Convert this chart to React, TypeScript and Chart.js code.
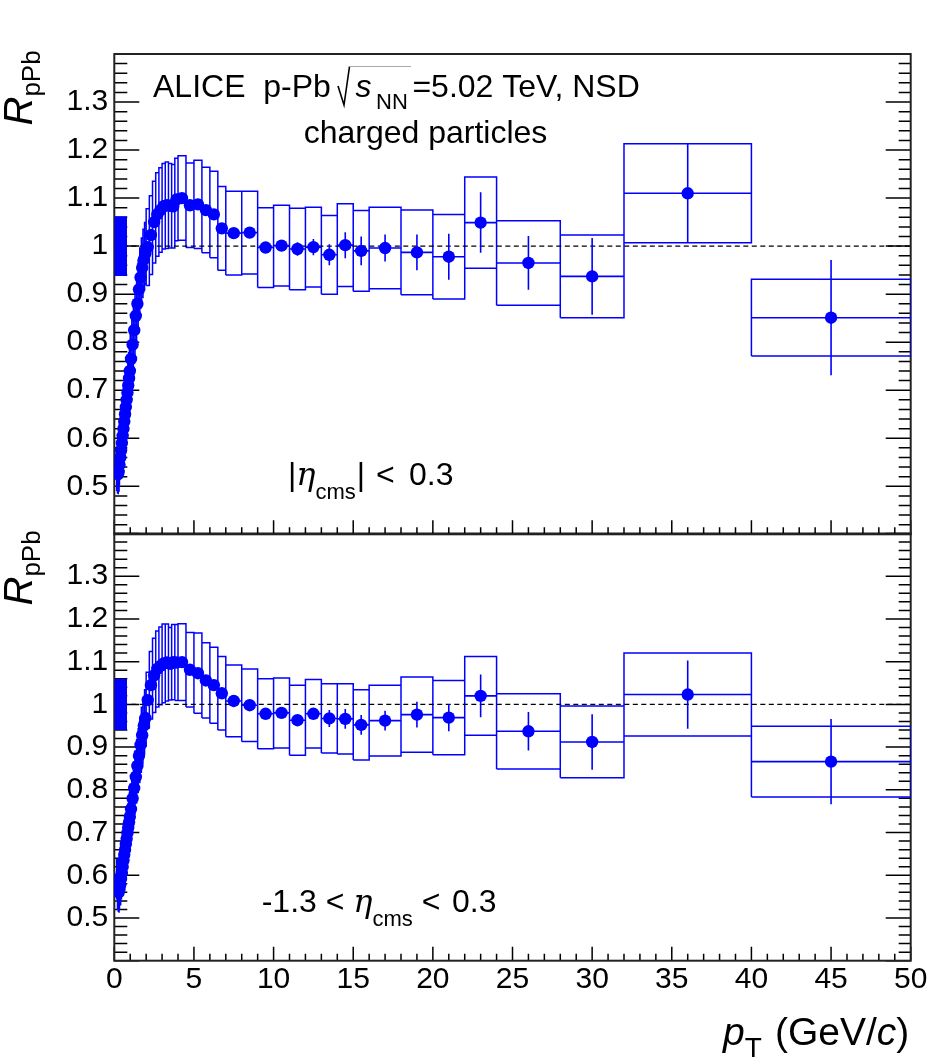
import React, { useEffect, useRef } from 'react';
import { Chart, registerables } from 'chart.js';

Chart.register(...registerables);

// ---------------- data ----------------
const binEdges = [
  0.15, 0.2, 0.25, 0.3, 0.35, 0.4, 0.45, 0.5, 0.55, 0.6, 0.65, 0.7, 0.75, 0.8, 0.85, 0.9, 0.95,
  1.0, 1.1, 1.2, 1.3, 1.4, 1.5, 1.6, 1.7, 1.8, 1.9,
  2.0, 2.2, 2.4, 2.6, 2.8, 3.0, 3.2, 3.4, 3.6, 3.8,
  4.0, 4.5, 5.0, 5.5, 6.0, 6.5,
  7, 8, 9, 10, 11, 12, 13, 14, 15,
  16, 18, 20, 22,
  24, 28, 32, 40, 50,
];

// |eta_cms| < 0.3
const rTop = [
  0.530, 0.525, 0.530, 0.545, 0.560, 0.575, 0.590, 0.605, 0.620, 0.635, 0.650, 0.665, 0.680, 0.695, 0.710, 0.725, 0.740,
  0.765, 0.795, 0.825, 0.855, 0.880, 0.910, 0.935, 0.955, 0.972, 0.985,
  0.998, 1.023, 1.050, 1.066, 1.075, 1.083, 1.085, 1.084, 1.083, 1.097,
  1.100, 1.085, 1.087, 1.075, 1.066, 1.037,
  1.027, 1.028, 0.997, 1.001, 0.994, 0.998, 0.982, 1.002, 0.990,
  0.996, 0.987, 0.978, 1.049,
  0.965, 0.937, 1.110, 0.851,
];
const statTop = [
  0.003, 0.003, 0.003, 0.003, 0.003, 0.003, 0.003, 0.003, 0.003, 0.003, 0.003, 0.003, 0.003, 0.003, 0.003, 0.003, 0.003,
  0.003, 0.003, 0.003, 0.003, 0.003, 0.003, 0.003, 0.003, 0.003, 0.003,
  0.004, 0.004, 0.004, 0.004, 0.004, 0.004, 0.004, 0.004, 0.004, 0.004,
  0.005, 0.005, 0.006, 0.006, 0.007, 0.007,
  0.007, 0.008, 0.009, 0.011, 0.014, 0.017, 0.022, 0.027, 0.030,
  0.028, 0.037, 0.048, 0.063,
  0.056, 0.080, 0.103, 0.120,
];
const systTop = [
  0.040, 0.040, 0.040, 0.041, 0.042, 0.043, 0.044, 0.045, 0.046, 0.047, 0.048, 0.049, 0.050, 0.051, 0.052, 0.053, 0.054,
  0.055, 0.056, 0.057, 0.058, 0.059, 0.060, 0.061, 0.062, 0.063, 0.064,
  0.080, 0.082, 0.085, 0.087, 0.088, 0.089, 0.090, 0.088, 0.087, 0.086,
  0.088, 0.088, 0.092, 0.089, 0.090, 0.087,
  0.087, 0.086, 0.083, 0.084, 0.085, 0.083, 0.082, 0.086, 0.084,
  0.085, 0.088, 0.088, 0.095,
  0.088, 0.086, 0.103, 0.080,
];

// -1.3 < eta_cms < 0.3
const rBottom = [
  0.590, 0.565, 0.560, 0.567, 0.578, 0.592, 0.605, 0.620, 0.635, 0.648, 0.660, 0.673, 0.686, 0.699, 0.712, 0.724, 0.737,
  0.755, 0.780, 0.804, 0.830, 0.856, 0.880, 0.905, 0.928, 0.950, 0.968,
  1.010, 1.045, 1.068, 1.083, 1.090, 1.096, 1.098, 1.095, 1.099, 1.098,
  1.099, 1.081, 1.073, 1.056, 1.045, 1.026,
  1.008, 0.998, 0.978, 0.980, 0.963, 0.978, 0.967, 0.966, 0.952,
  0.962, 0.976, 0.969, 1.020,
  0.937, 0.912, 1.023, 0.866,
];
const statBottom = [
  0.003, 0.003, 0.003, 0.003, 0.003, 0.003, 0.003, 0.003, 0.003, 0.003, 0.003, 0.003, 0.003, 0.003, 0.003, 0.003, 0.003,
  0.003, 0.003, 0.003, 0.003, 0.003, 0.003, 0.003, 0.003, 0.003, 0.003,
  0.004, 0.004, 0.004, 0.004, 0.004, 0.004, 0.004, 0.004, 0.004, 0.004,
  0.005, 0.005, 0.006, 0.006, 0.006, 0.007,
  0.007, 0.007, 0.008, 0.009, 0.010, 0.012, 0.020, 0.023, 0.023,
  0.023, 0.030, 0.032, 0.050,
  0.045, 0.065, 0.080, 0.100,
];
const systBottom = [
  0.047, 0.046, 0.046, 0.046, 0.047, 0.047, 0.048, 0.049, 0.050, 0.050, 0.051, 0.052, 0.053, 0.054, 0.055, 0.056, 0.057,
  0.058, 0.059, 0.060, 0.061, 0.062, 0.063, 0.064, 0.065, 0.066, 0.066,
  0.065, 0.079, 0.087, 0.089, 0.091, 0.092, 0.090, 0.085, 0.088, 0.089,
  0.090, 0.087, 0.094, 0.088, 0.089, 0.086,
  0.084, 0.085, 0.082, 0.082, 0.082, 0.080, 0.081, 0.082, 0.082,
  0.083, 0.088, 0.087, 0.092,
  0.088, 0.084, 0.097, 0.083,
];

// normalisation uncertainty box: [low, high] and its pT extent
const normTop = [0.938, 1.062];
const normBottom = [0.94, 1.06];
const normPtRange = [0, 0.8];
const unityLine = [0, 50];

const xRange = [0, 50];
const yRange = [0.4, 1.4];
const xTicks = [0, 5, 10, 15, 20, 25, 30, 35, 40, 45, 50];
const xTickLabels = ['0', '5', '10', '15', '20', '25', '30', '35', '40', '45', '50'];
const yTicks = [0.5, 0.6, 0.7, 0.8, 0.9, 1.0, 1.1, 1.2, 1.3];
const yTickLabels = ['0.5', '0.6', '0.7', '0.8', '0.9', '1', '1.1', '1.2', '1.3'];
const xMinorStep = 1;
const yMinorStep = 0.02;

// ---------------- styles / layout ----------------
const W = 950;
const H = 1061;
const BLUE = 'rgb(0,0,255)';
const SANS = "'Liberation Sans', Arial, Helvetica, sans-serif";
const SERIF = "'DejaVu Serif', 'Liberation Serif', serif";
const AREA_LEFT = 114.3;
const AREA_RIGHT = 910.7;
const PANELS = {
  top: { top: 54, bottom: 534.3 },
  bottom: { top: 533.5, bottom: 960.7 },
};

function buildDatasets(vals: number[], stat: number[], syst: number[], norm: number[]) {
  const boxes: any[] = [];
  const errs: any[] = [];
  const marks: any[] = [];
  vals.forEach((v, i) => {
    const lo = binEdges[i];
    const hi = binEdges[i + 1];
    const c = (lo + hi) / 2;
    const a = v - syst[i];
    const b = v + syst[i];
    boxes.push({ x: lo, y: a }, { x: hi, y: a }, { x: hi, y: b }, { x: lo, y: b }, { x: lo, y: a }, { x: lo, y: null });
    errs.push({ x: c, y: v - stat[i] }, { x: c, y: v + stat[i] }, { x: c, y: null });
    errs.push({ x: lo, y: v }, { x: hi, y: v }, { x: hi, y: null });
    marks.push({ x: c, y: v });
  });
  return [
    {
      type: 'scatter',
      data: marks,
      pointRadius: 6.2,
      pointBackgroundColor: BLUE,
      pointBorderColor: BLUE,
      pointBorderWidth: 0,
    },
    {
      type: 'line',
      data: errs,
      borderColor: BLUE,
      borderWidth: 1.6,
      pointRadius: 0,
      spanGaps: false,
    },
    {
      type: 'line',
      data: [
        { x: normPtRange[0], y: norm[1] },
        { x: normPtRange[1], y: norm[1] },
      ],
      fill: { value: norm[0] },
      backgroundColor: BLUE,
      borderColor: BLUE,
      borderWidth: 0,
      pointRadius: 0,
    },
    {
      type: 'line',
      data: [
        { x: unityLine[0], y: 1 },
        { x: unityLine[1], y: 1 },
      ],
      borderColor: '#000',
      borderWidth: 1.3,
      borderDash: [5, 3.5],
      pointRadius: 0,
    },
    {
      type: 'line',
      data: boxes,
      borderColor: BLUE,
      borderWidth: 1.5,
      pointRadius: 0,
      spanGaps: false,
    },
  ];
}

function run(ctx: CanvasRenderingContext2D, text: string, x: number, y: number, font: string) {
  ctx.font = font;
  ctx.fillText(text, x, y);
  return x + ctx.measureText(text).width;
}

function drawFrameAndTicks(chart: any) {
  const { ctx, chartArea: a } = chart;
  const xs = chart.scales.x;
  const ys = chart.scales.y;
  ctx.save();
  ctx.strokeStyle = '#000';
  ctx.lineWidth = 1.5;
  ctx.beginPath();
  const nY = Math.round((ys.max - ys.min) / yMinorStep);
  for (let k = 0; k <= nY; k++) {
    const py = ys.getPixelForValue(ys.min + k * yMinorStep);
    const major = k % 5 === 0;
    ctx.moveTo(a.left, py);
    ctx.lineTo(a.left + (major ? 25 : 13), py);
    ctx.moveTo(a.right, py);
    ctx.lineTo(a.right - (major ? 25 : 12), py);
  }
  const nX = Math.round((xs.max - xs.min) / xMinorStep);
  for (let k = 0; k <= nX; k++) {
    const px = xs.getPixelForValue(xs.min + k * xMinorStep);
    const major = k % 5 === 0;
    ctx.moveTo(px, a.bottom);
    ctx.lineTo(px, a.bottom - (major ? 14 : 7));
  }
  ctx.stroke();
  ctx.lineWidth = 2;
  ctx.strokeStyle = '#222';
  ctx.strokeRect(a.left, a.top, a.right - a.left, a.bottom - a.top);
  ctx.restore();
}

function drawYTitle(ctx: CanvasRenderingContext2D, x: number, y: number) {
  ctx.save();
  ctx.translate(x, y);
  ctx.rotate(-Math.PI / 2);
  ctx.fillStyle = '#000';
  ctx.textAlign = 'left';
  ctx.textBaseline = 'alphabetic';
  const w = run(ctx, 'R', 0, 0, `italic 40px ${SANS}`);
  run(ctx, 'pPb', w, 8, `26px ${SANS}`);
  ctx.restore();
}

const topTextPlugin = {
  id: 'topText',
  beforeDatasetsDraw(chart: any) {
    drawFrameAndTicks(chart);
  },
  afterDraw(chart: any) {
    const ctx = chart.ctx as CanvasRenderingContext2D;
    ctx.save();
    ctx.fillStyle = '#000';
    ctx.textAlign = 'left';
    ctx.textBaseline = 'alphabetic';
    const base = 96.5;
    run(ctx, 'ALICE  p-Pb', 153, base, `32px ${SANS}`);
    // square-root sign
    ctx.strokeStyle = '#000';
    ctx.lineWidth = 1.6;
    ctx.beginPath();
    ctx.moveTo(338, 86);
    ctx.lineTo(344, 105);
    ctx.lineTo(349.5, 66.5);
    ctx.stroke();
    ctx.strokeStyle = '#aaa';
    ctx.lineWidth = 1;
    ctx.beginPath();
    ctx.moveTo(349.5, 66.5);
    ctx.lineTo(411, 66.5);
    ctx.stroke();
    run(ctx, 's', 355.5, base, `italic 32px ${SANS}`);
    run(ctx, 'NN', 376, base + 12, `22px ${SANS}`);
    run(ctx, '=5.02 TeV, NSD', 412.4, base, `32px ${SANS}`);
    ctx.textAlign = 'center';
    run(ctx, 'charged particles', 425.5, 142.5, `32px ${SANS}`);
    ctx.textAlign = 'left';
    // eta range
    const eb = 485;
    let x = 288;
    x = run(ctx, '|', x, eb, `32px ${SANS}`);
    x = run(ctx, 'η', x, eb, `italic 32px ${SERIF}`);
    x = run(ctx, 'cms', x, eb + 14, `22px ${SANS}`);
    run(ctx, '|', x + 1, eb, `32px ${SANS}`);
    run(ctx, '<', 376, eb, `32px ${SANS}`);
    run(ctx, '0.3', 409, eb, `32px ${SANS}`);
    ctx.restore();
    drawYTitle(ctx, 32, 125.5);
  },
};

const bottomTextPlugin = {
  id: 'bottomText',
  beforeDatasetsDraw(chart: any) {
    drawFrameAndTicks(chart);
  },
  afterDraw(chart: any) {
    const ctx = chart.ctx as CanvasRenderingContext2D;
    ctx.save();
    ctx.fillStyle = '#000';
    ctx.textAlign = 'left';
    ctx.textBaseline = 'alphabetic';
    const eb = 912.3;
    let x = 261.7;
    x = run(ctx, '-1.3 < ', x, eb, `32px ${SANS}`);
    x = run(ctx, 'η', x, eb, `italic 32px ${SERIF}`);
    x = run(ctx, 'cms', x, eb + 14, `22px ${SANS}`);
    run(ctx, '<', 421.7, eb, `32px ${SANS}`);
    run(ctx, '0.3', 452, eb, `32px ${SANS}`);
    // x title
    const tb = 1045;
    let t = 723;
    t = run(ctx, 'p', t, tb, `italic 39px ${SANS}`);
    t = run(ctx, 'T', t, tb + 12, `28px ${SANS}`);
    t = 775;
    t = run(ctx, '(GeV/', t, tb, `39px ${SANS}`);
    t = run(ctx, 'c', t, tb, `italic 39px ${SANS}`);
    run(ctx, ')', t, tb, `39px ${SANS}`);
    ctx.restore();
    drawYTitle(ctx, 32, 605.5);
  },
};

function makeConfig(which: 'top' | 'bottom'): any {
  const isTop = which === 'top';
  const p = PANELS[which];
  const datasets = isTop
    ? buildDatasets(rTop, statTop, systTop, normTop)
    : buildDatasets(rBottom, statBottom, systBottom, normBottom);
  return {
    type: 'scatter',
    data: { datasets },
    options: {
      responsive: false,
      animation: false,
      events: [],
      layout: {
        padding: {
          left: 0,
          right: W - AREA_RIGHT,
          top: p.top,
          bottom: isTop ? H - p.bottom : 0,
        },
      },
      plugins: {
        legend: { display: false },
        tooltip: { enabled: false },
        title: { display: false },
      },
      scales: {
        x: {
          type: 'linear',
          min: xRange[0],
          max: xRange[1],
          display: !isTop,
          afterBuildTicks: (s: any) => {
            s.ticks = xTicks.map((v) => ({ value: v }));
          },
          afterFit: (s: any) => {
            s.height = isTop ? 0 : H - p.bottom;
          },
          grid: { display: false, drawTicks: false },
          border: { display: false },
          ticks: {
            display: !isTop,
            autoSkip: false,
            maxRotation: 0,
            minRotation: 0,
            padding: 1,
            color: '#000',
            font: { family: SANS, size: 30 },
            callback: (_v: any, i: number) => xTickLabels[i],
          },
        },
        y: {
          type: 'linear',
          min: yRange[0],
          max: yRange[1],
          afterBuildTicks: (s: any) => {
            s.ticks = yTicks.map((v) => ({ value: v }));
          },
          afterFit: (s: any) => {
            s.width = AREA_LEFT;
          },
          grid: { display: false, drawTicks: false },
          border: { display: false },
          ticks: {
            autoSkip: false,
            padding: 6,
            color: '#000',
            font: { family: SANS, size: 30 },
            callback: (_v: any, i: number) => yTickLabels[i],
          },
        },
      },
    },
    plugins: [isTop ? topTextPlugin : bottomTextPlugin],
  };
}

export default function App() {
  const topRef = useRef<HTMLCanvasElement>(null);
  const bottomRef = useRef<HTMLCanvasElement>(null);

  useEffect(() => {
    const bottom = new Chart(bottomRef.current as HTMLCanvasElement, makeConfig('bottom'));
    const top = new Chart(topRef.current as HTMLCanvasElement, makeConfig('top'));
    return () => {
      top.destroy();
      bottom.destroy();
    };
  }, []);

  const canvasStyle: React.CSSProperties = { position: 'absolute', left: 0, top: 0, width: W, height: H };
  return (
    <div style={{ position: 'absolute', left: 0, top: 0, width: W, height: H, background: '#fff' }}>
      <canvas ref={bottomRef} width={W} height={H} style={canvasStyle} />
      <canvas ref={topRef} width={W} height={H} style={canvasStyle} />
    </div>
  );
}
